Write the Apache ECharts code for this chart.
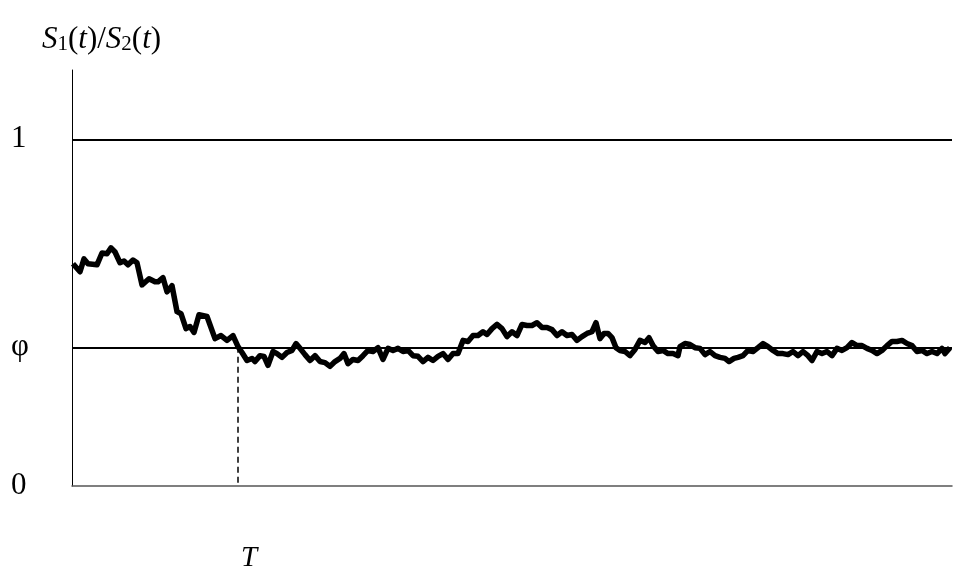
<!DOCTYPE html>
<html>
<head>
<meta charset="utf-8">
<script src="https://cdn.jsdelivr.net/npm/echarts@6/dist/echarts.min.js"></script>
<style>
html,body{margin:0;padding:0;background:#fff;}
#chart{width:953px;height:573px;}
</style>
</head>
<body>
<div id="chart"></div>
<script>
// time (horizontal position, arbitrary units) and ratio S1(t)/S2(t)
var times = [1,8,12,16,25,30,35,39,43,48,52,56,61,65,70,77,83,86,91,95,100,105,109,114,118,122,127,135,143,149,155,161,166,170,175,180,183,188,
  192,196,201,205,210,215,220,224,228,233,238,243,248,253,258,263,268,272,276,281,286,291,296,301,306,311,316,321,326,331,336,341,346,351,356,361,366,371,376,381,386,391,
  396,401,406,411,415,420,425,430,435,440,445,450,455,460,465,470,475,480,485,490,495,500,505,510,515,520,524,528,532,536,540,544,548,553,558,563,568,573,577,581,586,591,596,601,606,
  608,613,618,623,628,633,638,643,648,653,657,662,666,671,676,681,686,691,696,701,706,711,716,721,726,731,736,740,745,750,755,760,765,770,775,780,785,790,795,800,805,810,815,820,825,830,835,840,845,850,855,860,865,870,873,878];
var ratio = [0.641,0.618,0.655,0.641,0.638,0.672,0.670,0.687,0.675,0.644,0.649,0.638,0.652,0.644,0.580,0.598,0.589,0.589,0.601,0.560,0.578,0.503,0.497,0.454,0.460,0.443,0.494,0.489,0.425,0.434,0.420,0.434,0.402,0.385,0.362,0.368,0.359,0.376,
  0.374,0.348,0.388,0.382,0.371,0.385,0.391,0.411,0.397,0.379,0.362,0.376,0.359,0.356,0.345,0.359,0.368,0.382,0.353,0.365,0.362,0.376,0.391,0.388,0.399,0.365,0.397,0.391,0.397,0.388,0.391,0.376,0.374,0.359,0.371,0.362,0.374,0.382,0.365,0.382,0.382,0.420,
  0.417,0.434,0.434,0.445,0.437,0.454,0.466,0.454,0.431,0.445,0.434,0.466,0.463,0.463,0.471,0.457,0.457,0.451,0.434,0.445,0.434,0.437,0.420,0.431,0.440,0.445,0.471,0.425,0.440,0.440,0.428,0.399,0.391,0.388,0.376,0.394,0.420,0.414,0.428,0.405,0.388,0.391,0.382,0.382,0.376,
  0.402,0.411,0.408,0.399,0.397,0.379,0.388,0.376,0.371,0.368,0.359,0.368,0.371,0.376,0.391,0.388,0.399,0.411,0.402,0.391,0.382,0.382,0.379,0.388,0.376,0.388,0.376,0.362,0.388,0.382,0.388,0.376,0.397,0.391,0.399,0.414,0.405,0.405,0.397,0.391,0.382,0.391,0.405,0.417,0.417,0.420,0.411,0.405,0.388,0.391,0.382,0.388,0.382,0.397,0.382,0.399];
var PHI = 0.402;      // level phi
var T_HIT = 166;      // first time the ratio reaches phi
var T_END = 880;      // right end of the time axis
var yTickValues = [0, PHI, 1];
var yTickLabels = ['0', 'φ', '1'];
var xTickValues = [T_HIT];
var xTickLabels = ['T'];

var data = times.map(function (t, i) { return [t, ratio[i]]; });
var serif = '"Liberation Serif", "DejaVu Serif", serif';

var chart = echarts.init(document.getElementById('chart'));
chart.setOption({
  animation: false,
  backgroundColor: '#fff',
  title: {
    left: 37, top: 17,
    text: '{i|S}{s|1}{n|(}{i|t}{n|)/}{i|S}{s|2}{n|(}{i|t}{n|)}',
    textStyle: {
      fontWeight: 'normal',
      rich: {
        i: { fontFamily: serif, fontStyle: 'italic', fontWeight: 'normal', fontSize: 31, color: '#000', lineHeight: 33, verticalAlign: 'bottom' },
        n: { fontFamily: serif, fontWeight: 'normal', fontSize: 31, color: '#000', lineHeight: 33, verticalAlign: 'bottom' },
        s: { fontFamily: serif, fontWeight: 'normal', fontSize: 21, color: '#000', lineHeight: 21, verticalAlign: 'bottom' }
      }
    }
  },
  grid: { left: 72, right: 1, top: 70, bottom: 85 },
  xAxis: {
    type: 'value', min: 0, max: T_END,
    axisLine: { show: true, lineStyle: { color: '#555', width: 1.5 } },
    axisTick: { show: false },
    splitLine: { show: false },
    axisLabel: {
      customValues: xTickValues,
      formatter: function (v) { var k = xTickValues.indexOf(v); return k >= 0 ? xTickLabels[k] : ''; },
      margin: 58,
      fontFamily: serif, fontStyle: 'italic', fontSize: 29, color: '#000',
      padding: [0, 0, 0, 22]
    }
  },
  yAxis: {
    type: 'value', min: 0, max: 1.2,
    axisLine: { show: true, lineStyle: { color: '#000', width: 1 } },
    axisTick: { show: false },
    splitLine: { show: false },
    axisLabel: {
      customValues: yTickValues,
      formatter: function (v) {
        for (var k = 0; k < yTickValues.length; k++) { if (Math.abs(yTickValues[k] - v) < 1e-9) return yTickLabels[k]; }
        return '';
      },
      align: 'left', margin: 61,
      fontFamily: serif, fontSize: 31, color: '#000'
    }
  },
  series: [{
    type: 'line',
    data: data,
    showSymbol: false,
    symbol: 'none',
    lineStyle: { color: '#000', width: 5.5, join: 'round' },
    z: 3,
    markLine: {
      silent: true,
      symbol: 'none',
      label: { show: false },
      data: [
        { yAxis: 1, lineStyle: { color: '#000', width: 2, type: 'solid' } },
        { yAxis: PHI, lineStyle: { color: '#000', width: 2, type: 'solid' } },
        [ { coord: [T_HIT, PHI], lineStyle: { color: '#000', width: 1.5, type: [6, 4] } }, { coord: [T_HIT, 0] } ]
      ]
    }
  }]
});
</script>
</body>
</html>
